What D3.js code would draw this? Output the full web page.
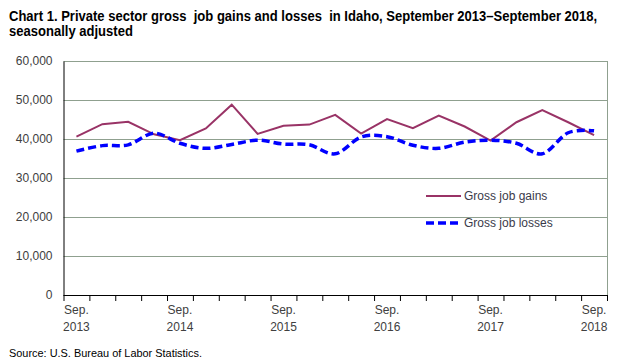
<!DOCTYPE html>
<html lang="en">
<head>
<meta charset="UTF-8">
<title>Chart 1</title>
<script src="https://cdn.jsdelivr.net/npm/d3@7"></script>
<style>
body{margin:0;background:#fff;}
text{font-family:"Liberation Sans",Arial,sans-serif;}
.title{font-family:"Liberation Sans Narrow","Arial Narrow","Liberation Sans",sans-serif;font-weight:bold;font-size:14px;fill:#000;white-space:pre;}
</style>
</head>
<body>
<script>
// quarterly, Sep. 2013 - Sep. 2018
var quarters = ["Sep 2013","Dec 2013","Mar 2014","Jun 2014","Sep 2014","Dec 2014","Mar 2015","Jun 2015","Sep 2015","Dec 2015","Mar 2016","Jun 2016","Sep 2016","Dec 2016","Mar 2017","Jun 2017","Sep 2017","Dec 2017","Mar 2018","Jun 2018","Sep 2018"];
var gains = [40600,43800,44400,41200,39700,42700,48800,41300,43400,43700,46200,41400,45100,42800,46000,43200,39600,44300,47400,44300,41000];
var losses = [36900,38300,38500,41500,38900,37600,38600,39700,38700,38500,36200,40500,40600,38400,37600,39200,39700,38900,36200,41600,42100];
var yTicks = [0,10000,20000,30000,40000,50000,60000];
var xLabels = {"Sep 2013":["Sep.","2013"],"Sep 2014":["Sep.","2014"],"Sep 2015":["Sep.","2015"],"Sep 2016":["Sep.","2016"],"Sep 2017":["Sep.","2017"],"Sep 2018":["Sep.","2018"]};
var legendNames = ["Gross job gains","Gross job losses"];
var titleLines = ["Chart 1. Private sector gross  job gains and losses  in Idaho, September 2013\u2013September 2018,","seasonally adjusted"];

var width = 622, height = 364;
var plot = {left:63.5, right:607, top:61, bottom:295};
var svg = d3.select("body").append("svg").attr("width",width).attr("height",height);

// title: narrow bold font is not installed, so squeeze it horizontally
var titleWidths = [589,124];
svg.selectAll("text.title").data(titleLines).enter().append("text").attr("class","title")
	.text(function(d){return d;})
	.attr("transform",function(d,i){
		var w = this.getComputedTextLength();
		return "translate(9,"+(21+i*14.5)+") scale("+(titleWidths[i]/w)+",1)";
	});

var xScale = d3.scaleBand().domain(quarters).range([plot.left,plot.right]);
var yScale = d3.scaleLinear().domain([0,60000]).range([plot.bottom,plot.top]);
var xc = function(d){return xScale(d)+xScale.bandwidth()/2;};

// grid lines
svg.append("g").selectAll("line").data(yTicks.slice(1)).enter().append("line")
	.attr("x1",plot.left).attr("x2",plot.right)
	.attr("y1",function(d){return yScale(d)+0.5;}).attr("y2",function(d){return yScale(d)+0.5;})
	.attr("stroke","#8fa08f").attr("stroke-width",1);
// right border
svg.append("line").attr("x1",plot.right+0.5).attr("x2",plot.right+0.5).attr("y1",plot.top).attr("y2",plot.bottom)
	.attr("stroke","#8fa08f");

// y axis
var yAxis = d3.axisLeft(yScale).tickValues(yTicks).tickSize(0).tickPadding(11).tickFormat(d3.format(","));
var gy = svg.append("g").attr("transform","translate("+plot.left+",0)").call(yAxis);
gy.select(".domain").attr("stroke","#000");
gy.selectAll("text").attr("font-size",12).attr("fill","#404040").attr("font-family","Liberation Sans, Arial, sans-serif");

// x axis: ticks between categories
var gx = svg.append("g").attr("transform","translate(0,"+plot.bottom+")");
gx.append("line").attr("x1",plot.left).attr("x2",plot.right+1).attr("y1",0.5).attr("y2",0.5).attr("stroke","#000");
var bounds = quarters.map(function(d){return xScale(d);}).concat([plot.right]);
gx.selectAll("line.tick").data(bounds).enter().append("line").attr("class","tick")
	.attr("x1",function(d){return d+0.5;}).attr("x2",function(d){return d+0.5;})
	.attr("y1",0).attr("y2",6).attr("stroke","#000");
var lab = gx.selectAll("text").data(quarters.filter(function(d){return xLabels[d];})).enter().append("text")
	.attr("text-anchor","middle").attr("font-size",12).attr("fill","#404040");
lab.append("tspan").attr("x",xc).attr("y",19).text(function(d){return xLabels[d][0];});
lab.append("tspan").attr("x",xc).attr("y",36).text(function(d){return xLabels[d][1];});

// lines
var gainLine = d3.line().x(function(d,i){return xc(quarters[i]);}).y(function(d){return yScale(d);});
var lossLine = d3.line().x(function(d,i){return xc(quarters[i]);}).y(function(d){return yScale(d);}).curve(d3.curveCardinal.tension(0));
svg.append("path").datum(gains).attr("d",gainLine).attr("fill","none").attr("stroke","#993366").attr("stroke-width",2);
svg.append("path").datum(losses).attr("d",lossLine).attr("fill","none").attr("stroke","#0000ff").attr("stroke-width",3.5).attr("stroke-dasharray","8,4");

// legend
var leg = svg.append("g");
leg.append("line").attr("x1",426).attr("x2",461).attr("y1",196).attr("y2",196).attr("stroke","#993366").attr("stroke-width",2);
leg.append("line").attr("x1",426).attr("x2",461).attr("y1",223).attr("y2",223).attr("stroke","#0000ff").attr("stroke-width",3.5).attr("stroke-dasharray","8,4");
leg.selectAll("text.leg").data(legendNames).enter().append("text").attr("class","leg")
	.attr("x",464).attr("y",function(d,i){return 200+i*27;})
	.attr("font-size",12).attr("fill","#3a3a4a").text(function(d){return d;});

// source
svg.append("text").attr("x",9).attr("y",357).attr("font-size",11).attr("fill","#000")
	.attr("textLength",193).attr("lengthAdjust","spacingAndGlyphs")
	.text("Source: U.S. Bureau of Labor Statistics.");
</script>
</body>
</html>
